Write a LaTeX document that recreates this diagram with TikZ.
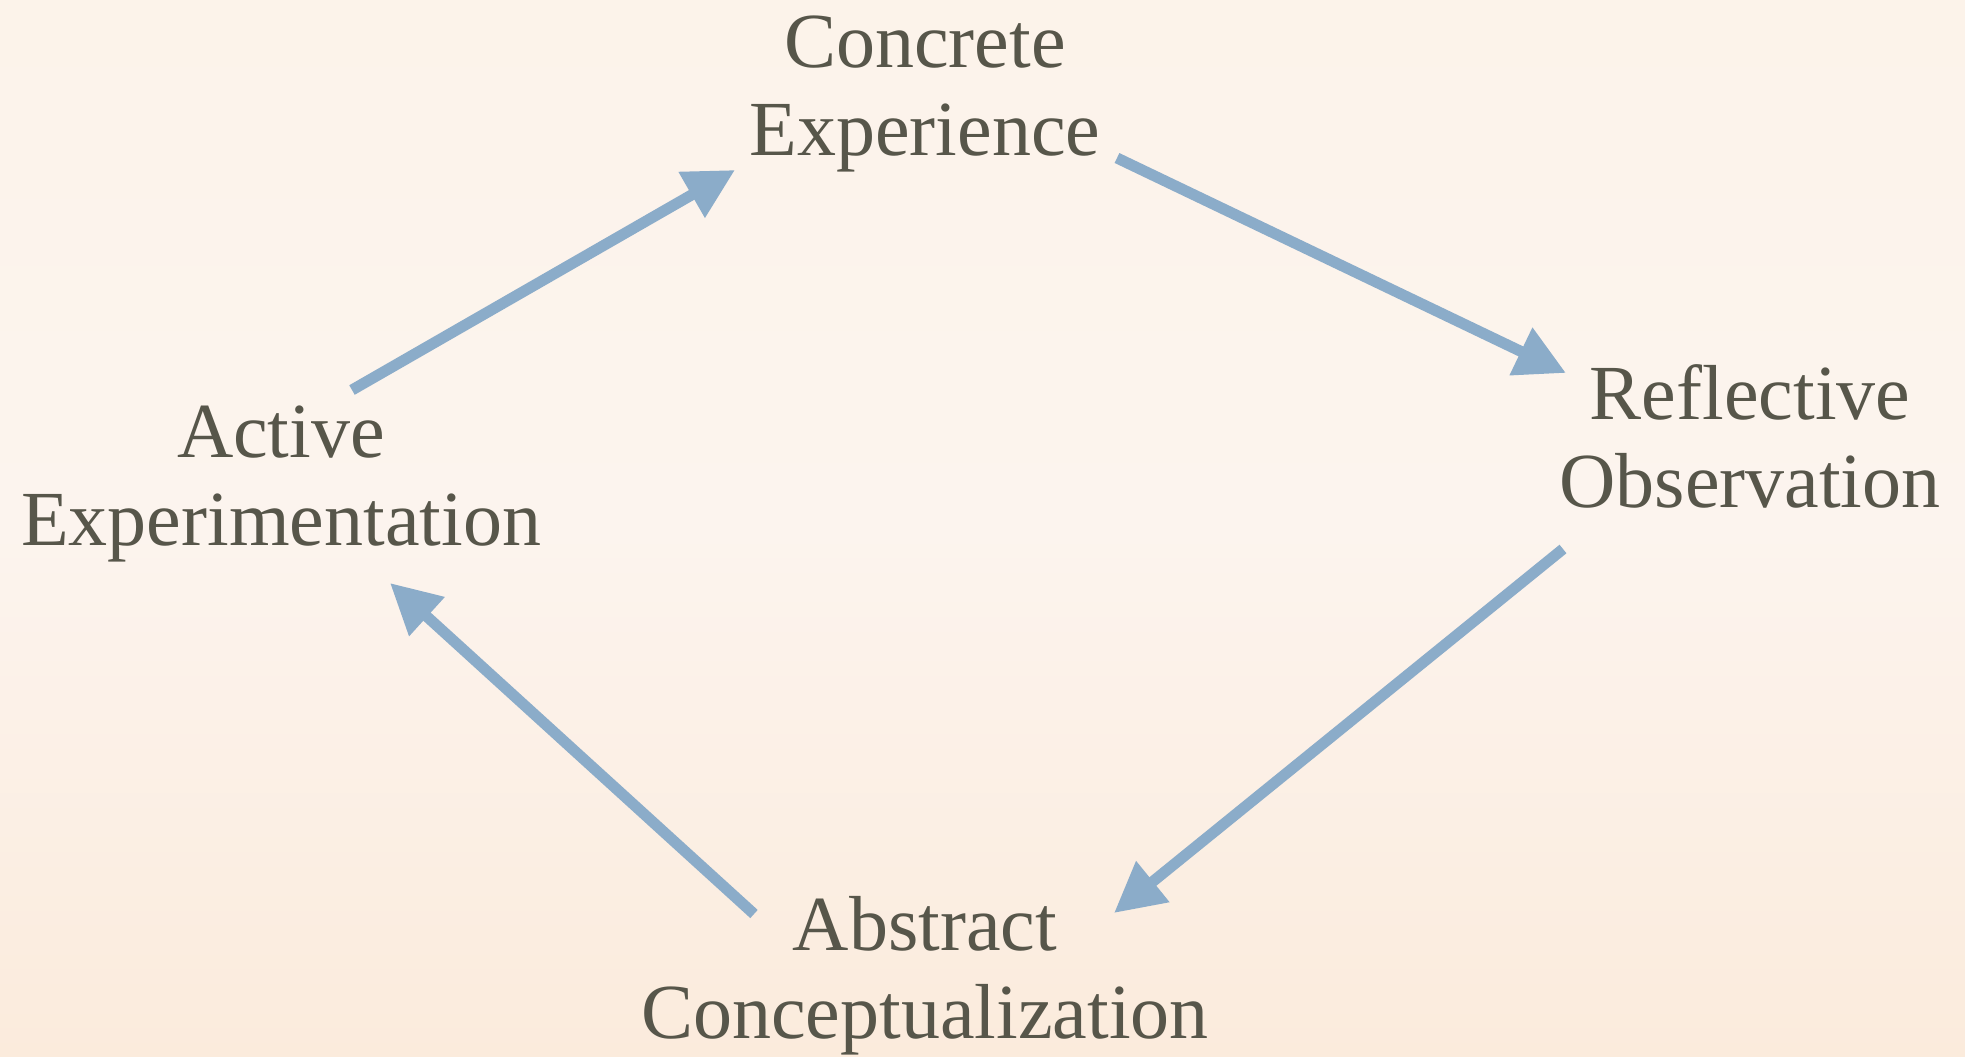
\documentclass[tikz,border=0pt]{standalone}
\usepackage{fontspec}
\setmainfont{Liberation Serif}
\usetikzlibrary{arrows.meta}
\definecolor{txt}{RGB}{87,86,74}
\definecolor{arr}{RGB}{139,172,201}
\definecolor{bgtop}{RGB}{252,243,234}
\definecolor{bgbot}{RGB}{251,235,220}
\definecolor{bgmid}{RGB}{252,244,238}
\tikzset{
  lbl/.style={anchor=base, inner sep=0pt, text=txt, font=\fontsize{78}{88}\selectfont},
  cyc/.style={draw=arr, line width=11pt, -{Triangle[length=50pt,width=50pt]}}
}
\newcommand{\twolines}[2]{\begin{tabular}[b]{@{}c@{}}#1\\#2\end{tabular}}
\begin{document}
\begin{tikzpicture}[x=1pt,y=-1pt]
\useasboundingbox (0,0) rectangle (1965,1057);
\shade[top color=bgtop, bottom color=bgbot, middle color=bgmid] (0,0) rectangle (1965,1057);
\node[lbl] (ce) at (925,155) {\twolines{Concrete}{Experience}};
\node[lbl] (ro) at (1750,507) {\twolines{Reflective}{Observation}};
\node[lbl] (ac) at (925,1038) {\twolines{Abstract}{Conceptualization}};
\node[lbl] (ae) at (281,545) {\twolines{Active}{Experimentation}};
\coordinate (s1) at (352,390);   \coordinate (t1) at (735,170);
\coordinate (s2) at (1117,158);  \coordinate (t2) at (1566,373);
\coordinate (s3) at (1563,549);  \coordinate (t3) at (1114,913);
\coordinate (s4) at (754,914);   \coordinate (t4) at (390,583);
\draw[cyc] (s1) -- (t1);
\draw[cyc] (s2) -- (t2);
\draw[cyc] (s3) -- (t3);
\draw[cyc] (s4) -- (t4);
\end{tikzpicture}
\end{document}
